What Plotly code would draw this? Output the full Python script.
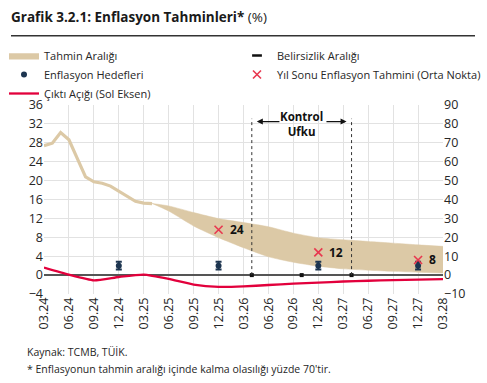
import plotly.graph_objects as go

# ---------------- data ----------------
tick_labels = ["03.24", "06.24", "09.24", "12.24", "03.25", "06.25", "09.25", "12.25",
               "03.26", "06.26", "09.26", "12.26", "03.27", "06.27", "09.27", "12.27", "03.28"]
tick_months = list(range(0, 49, 3))  # month index, 0 = 03.24

# realised annual CPI inflation (right axis), monthly 03.24 - 04.25
hist_months = list(range(0, 14))
hist_values = [68.50, 69.80, 75.45, 71.60, 61.78, 51.97, 49.38, 48.58, 47.09, 44.38,
               42.12, 39.05, 38.10, 37.86]

# forecast range (right axis)
band_months = [13, 15, 18, 21, 24, 27, 30, 33, 36, 39, 42, 45, 48]
band_upper = [37.9, 36.6, 33.1, 29.9, 27.8, 25.6, 22.2, 19.8, 18.7, 17.8, 16.9, 16.0, 15.2]
band_lower = [37.9, 33.9, 26.0, 19.8, 14.5, 9.7, 6.8, 4.7, 3.3, 2.6, 2.0, 1.5, 1.1]

# inflation targets with uncertainty range (right axis)
target_months = [9, 21, 33, 45]
target_values = [5, 5, 5, 5]
target_unc = [2, 2, 2, 2]

# year-end forecast mid points (right axis)
fc_months = [21, 33, 45]
fc_values = [24, 12, 8]

# output gap (left axis), quarterly
gap_months = tick_months
gap_values = [1.6, 0.1, -1.1, -0.4, 0.1, -0.8, -2.0, -2.5, -2.4, -2.1, -1.8, -1.6,
              -1.35, -1.2, -1.05, -0.95, -0.85]

# control horizon and small markers on the zero line
control_horizon = [25, 37]
zero_marks = [25, 31, 37]

TAN = "#dcc9a6"
RED = "#e2003c"
NAVY = "#1d3550"
XRED = "#e8374f"
TXT = "#262626"
FONT = "Open Sans"

fig = go.Figure()

fig.add_trace(go.Scatter(x=band_months, y=band_upper, yaxis="y2", mode="lines",
                         line=dict(color=TAN, width=0.5, shape="spline", smoothing=0.6),
                         showlegend=False, hoverinfo="skip"))
fig.add_trace(go.Scatter(x=band_months, y=band_lower, yaxis="y2", mode="lines",
                         fill="tonexty", fillcolor=TAN,
                         line=dict(color=TAN, width=0.5, shape="spline", smoothing=0.6),
                         name="Tahmin Aralığı", legend="legend", legendrank=1))
fig.add_trace(go.Scatter(x=hist_months, y=hist_values, yaxis="y2", mode="lines",
                         line=dict(color=TAN, width=3.2), showlegend=False))

fig.add_trace(go.Scatter(x=gap_months, y=gap_values, yaxis="y", mode="lines",
                         line=dict(color=RED, width=2.3, shape="spline", smoothing=0.5),
                         name="Çıktı Açığı (Sol Eksen)", legend="legend", legendrank=3))

fig.add_trace(go.Scatter(x=zero_marks, y=[0] * len(zero_marks), yaxis="y", mode="markers",
                         marker=dict(symbol="square", size=4, color="#111"),
                         showlegend=False, hoverinfo="skip"))

fig.add_trace(go.Scatter(x=[None], y=[None], mode="markers",
                         marker=dict(symbol="line-ew", size=7, color="#111",
                                     line=dict(color="#111", width=2.5)),
                         name="Belirsizlik Aralığı", legend="legend2", legendrank=1))

fig.add_trace(go.Scatter(x=target_months, y=target_values, yaxis="y2", mode="markers",
                         marker=dict(color=NAVY, size=6),
                         error_y=dict(type="data", array=target_unc, color=NAVY,
                                      thickness=2, width=3),
                         name="Enflasyon Hedefleri", legend="legend", legendrank=2))

fig.add_trace(go.Scatter(x=fc_months, y=fc_values, yaxis="y2", mode="markers",
                         marker=dict(symbol="x-thin", size=8, line=dict(color=XRED, width=1.6)),
                         name="Yıl Sonu Enflasyon Tahmini (Orta Nokta)",
                         legend="legend2", legendrank=2))

shapes = []
for cx in control_horizon:
    shapes.append(dict(type="line", xref="x", yref="y", x0=cx, x1=cx, y0=0, y1=33.1,
                       line=dict(color="#333", width=1, dash="dot")))
shapes.append(dict(type="line", xref="paper", yref="paper", x0=(11 - 44) / 399,
                   x1=(475 - 44) / 399, y0=(294 - 35.7) / 189, y1=(294 - 35.7) / 189,
                   line=dict(color="#333", width=1.5)))

annotations = []
for m, v in zip(fc_months, fc_values):
    annotations.append(dict(x=m, y=v, xref="x", yref="y2", text=f"<b>{v}</b>",
                            showarrow=False, xanchor="left", yanchor="middle", xshift=9,
                            font=dict(family=FONT, size=12, color="#111")))
annotations += [
    dict(x=31, y=31.9, xref="x", yref="y", text="<b>Kontrol<br>Ufku</b>", showarrow=False,
         font=dict(family=FONT, size=11.5, color="#111"), align="center"),
    dict(x=control_horizon[0] + 0.6, y=32.5, ax=28.5, ay=32.5, xref="x", yref="y",
         axref="x", ayref="y", showarrow=True, arrowhead=2, arrowsize=1, arrowwidth=1.2,
         arrowcolor="#111", text=""),
    dict(x=control_horizon[1] - 0.6, y=32.5, ax=33.8, ay=32.5, xref="x", yref="y",
         axref="x", ayref="y", showarrow=True, arrowhead=2, arrowsize=1, arrowwidth=1.2,
         arrowcolor="#111", text=""),
    dict(x=(25 - 44) / 399, y=(294 - 352) / 189, xref="paper", yref="paper",
         xanchor="left", yanchor="middle", showarrow=False, text="Kaynak: TCMB, TÜİK.",
         font=dict(family=FONT, size=10.5, color=TXT)),
    dict(x=(25 - 44) / 399, y=(294 - 369) / 189, xref="paper", yref="paper",
         xanchor="left", yanchor="middle", showarrow=False,
         text="* Enflasyonun tahmin aralığı içinde kalma olasılığı yüzde 70'tir.",
         font=dict(family=FONT, size=10.5, color=TXT)),
]

fig.update_layout(
    width=487, height=383,
    margin=dict(l=44, r=44, t=105, b=89, autoexpand=False),
    paper_bgcolor="white", plot_bgcolor="white",
    font=dict(family=FONT, size=12, color=TXT),
    title=dict(text="<b>Grafik 3.2.1: Enflasyon Tahminleri*</b> (%)", x=11 / 487, xanchor="left",
               y=1 - 17 / 383, yanchor="middle", xref="container", yref="container",
               font=dict(family=FONT, size=13.5, color="#1a1a1a")),
    xaxis=dict(range=[0, 48], tickvals=tick_months, ticktext=tick_labels, tickangle=-90,
               showgrid=True, gridcolor="#e2e2e2", gridwidth=1.3, zeroline=False,
               showline=False, ticks="", tickfont=dict(size=12.5, color=TXT)),
    yaxis=dict(range=[-4, 36], tick0=0, dtick=4, showgrid=True, gridcolor="#e2e2e2",
               gridwidth=1.3, zeroline=True, zerolinecolor="#555", zerolinewidth=1.5,
               ticks="", tickfont=dict(size=12.5, color=TXT)),
    yaxis2=dict(range=[-10, 90], tick0=0, dtick=10, overlaying="y", side="right",
                showgrid=False, zeroline=False, ticks="", tickfont=dict(size=12.5, color=TXT)),
    legend=dict(x=(4 - 44) / 399, y=(294 - 41) / 189, xanchor="left", yanchor="top",
                orientation="v", bgcolor="rgba(0,0,0,0)", font=dict(size=11, color=TXT),
                tracegroupgap=0, itemwidth=30, traceorder="normal"),
    legend2=dict(x=(237 - 44) / 399, y=(294 - 41) / 189, xanchor="left", yanchor="top",
                 orientation="v", bgcolor="rgba(0,0,0,0)", font=dict(size=11, color=TXT),
                 tracegroupgap=0, itemwidth=30, traceorder="normal"),
    shapes=shapes, annotations=annotations,
    showlegend=True,
)

fig.write_html("out.html", post_script="document.body.style.margin='0';",
               config={"displayModeBar": False})
